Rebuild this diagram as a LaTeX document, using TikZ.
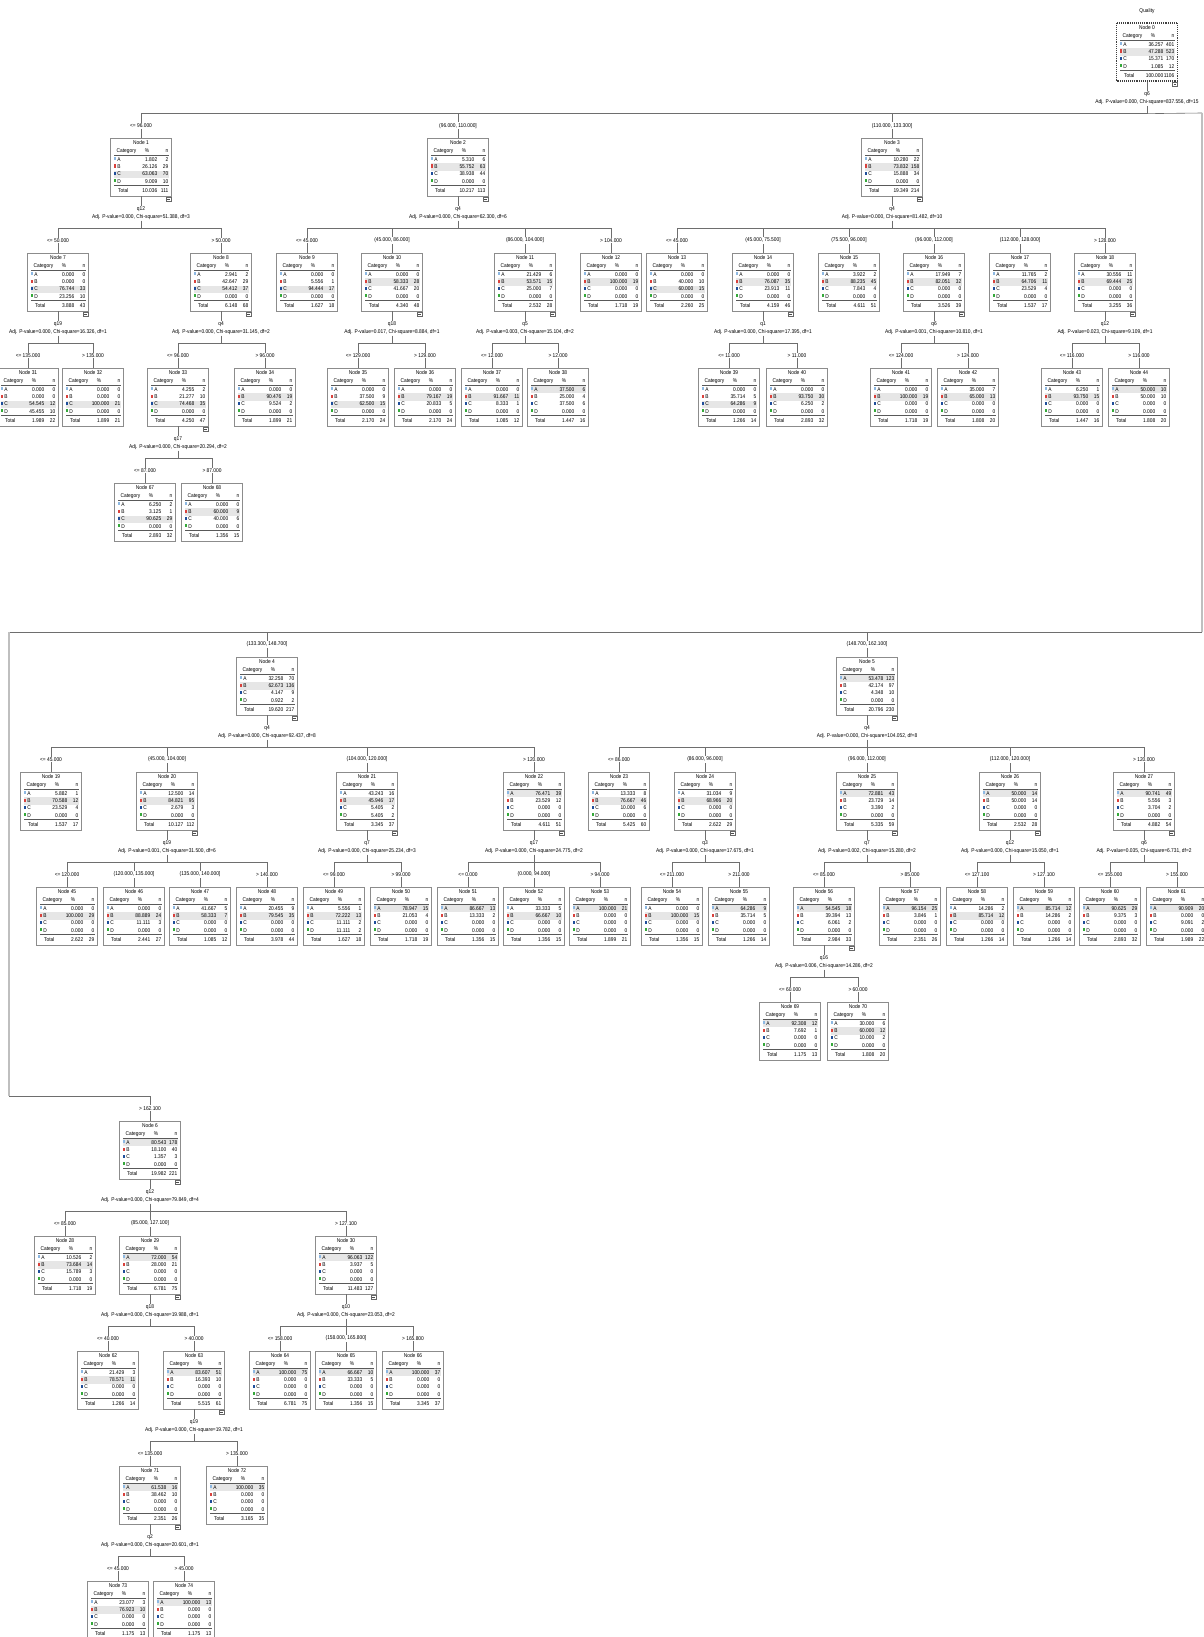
\documentclass[tikz,border=0pt]{standalone}
\usepackage{fontspec}
\newfontfamily\spss{Liberation Sans}[FakeStretch=0.88]
\usetikzlibrary{calc}
\definecolor{catA}{HTML}{8DB8E2}
\definecolor{catB}{HTML}{D9413C}
\definecolor{catC}{HTML}{1F4E9A}
\definecolor{catD}{HTML}{35A83A}
\definecolor{hlBack}{HTML}{E6E6E6}
\definecolor{linkGray}{HTML}{6E6E6E}
\definecolor{boxGray}{HTML}{8C8C8C}

\tikzset{
  txt/.style={inner sep=0pt, font=\fontsize{5.5}{6.6}\spss, text height=3.9pt, text depth=0.9pt},
  tbox/.style={draw=boxGray, line width=0.9pt, fill=white, minimum width=61pt, minimum height=58pt, inner sep=0pt},
  hrule/.style={draw=black!65, line width=0.4pt},
  link/.style={draw=linkGray, line width=0.6pt},
  wrap/.style={draw=black!25, line width=1.1pt},
  split/.style={font=\fontsize{5.5}{8}\spss, align=center, fill=white, inner sep=0.5pt},
  cond/.style={font=\fontsize{5.5}{6.6}\spss, fill=white, inner sep=1pt, pos=0.75},
  foldbox/.style={draw=black!60, line width=0.4pt, fill=white}
}

% one tree node: [box options]{number}{x}{y top}{pct/n rows}{highlighted row}{total pct/n}
\newcommand{\tnode}[7][]{%
  \begin{scope}[shift={(#3,#4)}]
    \node[tbox,#1] (n#2) at (0,29) {};
    \fill[hlBack] (-27,{10.75+7.3*#6}) rectangle (28,{18.05+7.3*#6});
    \node[txt] at (0,5) {Node #2};
    \node[txt] at (-14.5,13.2) {Category};
    \node[txt] at (6,13.2) {\%};
    \node[txt,anchor=east] at (27.5,13.2) {n};
    \draw[hrule] (-27,17) -- (28,17);
    \foreach \lt/\cl [count=\ri] in {A/catA,B/catB,C/catC,D/catD}{
      \fill[\cl] (-27.5,{11.9+7.3*\ri}) rectangle ++(2.8,3.2);
      \node[txt,anchor=west] at (-23.8,{14.4+7.3*\ri}) {\lt};
    }
    \foreach \pc/\cnt [count=\ri] in {#5}{
      \node[txt,anchor=east] at (16.5,{14.4+7.3*\ri}) {\pc};
      \node[txt,anchor=east] at (27.5,{14.4+7.3*\ri}) {\cnt};
    }
    \draw[hrule, line width=0.6pt] (-27,47.6) -- (28,47.6);
    \foreach \pc/\cnt in {#7}{
      \node[txt,anchor=west] at (-23,52.8) {Total};
      \node[txt,anchor=east] at (16.5,52.8) {\pc};
      \node[txt,anchor=east] at (27.5,52.8) {\cnt};
    }
  \end{scope}}

% split text under a parent, with its bar coordinate and fold mark
\newcommand{\branch}[2]{%
  \node[split] (s#1) at ($(n#1.south)+(0,17)$) {#2};
  \coordinate (b#1) at ($(n#1.south)+(0,32)$);
  \draw[link] (n#1) -- (s#1) -- (b#1);
  \draw[foldbox] ($(n#1.south east)+(-5.5,0.3)$) rectangle ++(4.6,4.6);
  \draw[black!70, line width=0.4pt] ($(n#1.south east)+(-4.6,2.6)$) -- ++(2.8,0);}

\begin{document}
\begin{tikzpicture}[x=1pt, y=-1pt]
\useasboundingbox (0,0) rectangle (1203,1637);
\fill[white] (0,0) rectangle (1203,1637);

\node[txt] (title) at (1147,11) {Quality};

% Root
\tnode[densely dotted, line width=1.3pt, draw=black!75]{0}{1147}{23}{36.257/401, 47.288/523, 15.371/170, 1.085/12}{2}{100.000/1106}

% Level 1 (upper part)
\tnode{1}{141}{138}{1.802/2, 26.126/29, 63.063/70, 9.009/10}{3}{10.036/111}
\tnode{2}{458}{138}{5.310/6, 55.752/63, 38.938/44, 0.000/0}{2}{10.217/113}
\tnode{3}{892}{138}{10.280/22, 73.832/158, 15.888/34, 0.000/0}{2}{19.349/214}

% Level 2
\tnode{7}{58}{253}{0.000/0, 0.000/0, 76.744/33, 23.256/10}{3}{3.888/43}
\tnode{8}{221}{253}{2.941/2, 42.647/29, 54.412/37, 0.000/0}{3}{6.148/68}
\tnode{9}{307}{253}{0.000/0, 5.556/1, 94.444/17, 0.000/0}{3}{1.627/18}
\tnode{10}{392}{253}{0.000/0, 58.333/28, 41.667/20, 0.000/0}{2}{4.340/48}
\tnode{11}{525}{253}{21.429/6, 53.571/15, 25.000/7, 0.000/0}{2}{2.532/28}
\tnode{12}{611}{253}{0.000/0, 100.000/19, 0.000/0, 0.000/0}{2}{1.718/19}
\tnode{13}{677}{253}{0.000/0, 40.000/10, 60.000/15, 0.000/0}{3}{2.260/25}
\tnode{14}{763}{253}{0.000/0, 76.087/35, 23.913/11, 0.000/0}{2}{4.159/46}
\tnode{15}{849}{253}{3.922/2, 88.235/45, 7.843/4, 0.000/0}{2}{4.611/51}
\tnode{16}{934}{253}{17.949/7, 82.051/32, 0.000/0, 0.000/0}{2}{3.526/39}
\tnode{17}{1020}{253}{11.765/2, 64.706/11, 23.529/4, 0.000/0}{2}{1.537/17}
\tnode{18}{1105}{253}{30.556/11, 69.444/25, 0.000/0, 0.000/0}{2}{3.255/36}

% Level 3
\tnode{31}{28}{368}{0.000/0, 0.000/0, 54.545/12, 45.455/10}{3}{1.989/22}
\tnode{32}{93}{368}{0.000/0, 0.000/0, 100.000/21, 0.000/0}{3}{1.899/21}
\tnode{33}{178}{368}{4.255/2, 21.277/10, 74.468/35, 0.000/0}{3}{4.250/47}
\tnode{34}{265}{368}{0.000/0, 90.476/19, 9.524/2, 0.000/0}{2}{1.899/21}
\tnode{35}{358}{368}{0.000/0, 37.500/9, 62.500/15, 0.000/0}{3}{2.170/24}
\tnode{36}{425}{368}{0.000/0, 79.167/19, 20.833/5, 0.000/0}{2}{2.170/24}
\tnode{37}{492}{368}{0.000/0, 91.667/11, 8.333/1, 0.000/0}{2}{1.085/12}
\tnode{38}{558}{368}{37.500/6, 25.000/4, 37.500/6, 0.000/0}{1}{1.447/16}
\tnode{39}{729}{368}{0.000/0, 35.714/5, 64.286/9, 0.000/0}{3}{1.266/14}
\tnode{40}{797}{368}{0.000/0, 93.750/30, 6.250/2, 0.000/0}{2}{2.893/32}
\tnode{41}{901}{368}{0.000/0, 100.000/19, 0.000/0, 0.000/0}{2}{1.718/19}
\tnode{42}{968}{368}{35.000/7, 65.000/13, 0.000/0, 0.000/0}{2}{1.808/20}
\tnode{43}{1072}{368}{6.250/1, 93.750/15, 0.000/0, 0.000/0}{2}{1.447/16}
\tnode{44}{1139}{368}{50.000/10, 50.000/10, 0.000/0, 0.000/0}{1}{1.808/20}

% Level 4
\tnode{67}{145}{483}{6.250/2, 3.125/1, 90.625/29, 0.000/0}{3}{2.893/32}
\tnode{68}{212}{483}{0.000/0, 60.000/9, 40.000/6, 0.000/0}{2}{1.356/15}

% Level 1 (middle part)
\tnode{4}{267}{657}{32.258/70, 62.673/136, 4.147/9, 0.922/2}{2}{19.620/217}
\tnode{5}{867}{657}{53.478/123, 42.174/97, 4.348/10, 0.000/0}{1}{20.796/230}

\tnode{19}{51}{772}{5.882/1, 70.588/12, 23.529/4, 0.000/0}{2}{1.537/17}
\tnode{20}{167}{772}{12.500/14, 84.821/95, 2.679/3, 0.000/0}{2}{10.127/112}
\tnode{21}{367}{772}{43.243/16, 45.946/17, 5.405/2, 5.405/2}{2}{3.345/37}
\tnode{22}{534}{772}{76.471/39, 23.529/12, 0.000/0, 0.000/0}{1}{4.611/51}
\tnode{23}{619}{772}{13.333/8, 76.667/46, 10.000/6, 0.000/0}{2}{5.425/60}
\tnode{24}{705}{772}{31.034/9, 68.966/20, 0.000/0, 0.000/0}{2}{2.622/29}
\tnode{25}{867}{772}{72.881/43, 23.729/14, 3.390/2, 0.000/0}{1}{5.335/59}
\tnode{26}{1010}{772}{50.000/14, 50.000/14, 0.000/0, 0.000/0}{1}{2.532/28}
\tnode{27}{1144}{772}{90.741/49, 5.556/3, 3.704/2, 0.000/0}{1}{4.882/54}

\tnode{45}{67}{887}{0.000/0, 100.000/29, 0.000/0, 0.000/0}{2}{2.622/29}
\tnode{46}{134}{887}{0.000/0, 88.889/24, 11.111/3, 0.000/0}{2}{2.441/27}
\tnode{47}{200}{887}{41.667/5, 58.333/7, 0.000/0, 0.000/0}{2}{1.085/12}
\tnode{48}{267}{887}{20.455/9, 79.545/35, 0.000/0, 0.000/0}{2}{3.978/44}
\tnode{49}{334}{887}{5.556/1, 72.222/13, 11.111/2, 11.111/2}{2}{1.627/18}
\tnode{50}{401}{887}{78.947/15, 21.053/4, 0.000/0, 0.000/0}{1}{1.718/19}
\tnode{51}{468}{887}{86.667/13, 13.333/2, 0.000/0, 0.000/0}{1}{1.356/15}
\tnode{52}{534}{887}{33.333/5, 66.667/10, 0.000/0, 0.000/0}{2}{1.356/15}
\tnode{53}{600}{887}{100.000/21, 0.000/0, 0.000/0, 0.000/0}{1}{1.899/21}
\tnode{54}{672}{887}{0.000/0, 100.000/15, 0.000/0, 0.000/0}{2}{1.356/15}
\tnode{55}{739}{887}{64.286/9, 35.714/5, 0.000/0, 0.000/0}{1}{1.266/14}
\tnode{56}{824}{887}{54.545/18, 39.394/13, 6.061/2, 0.000/0}{1}{2.984/33}
\tnode{57}{910}{887}{96.154/25, 3.846/1, 0.000/0, 0.000/0}{1}{2.351/26}
\tnode{58}{977}{887}{14.286/2, 85.714/12, 0.000/0, 0.000/0}{2}{1.266/14}
\tnode{59}{1044}{887}{85.714/12, 14.286/2, 0.000/0, 0.000/0}{1}{1.266/14}
\tnode{60}{1110}{887}{90.625/29, 9.375/3, 0.000/0, 0.000/0}{1}{2.893/32}
\tnode{61}{1177}{887}{90.909/20, 0.000/0, 9.091/2, 0.000/0}{1}{1.989/22}

\tnode{69}{790}{1002}{92.308/12, 7.692/1, 0.000/0, 0.000/0}{1}{1.175/13}
\tnode{70}{858}{1002}{30.000/6, 60.000/12, 10.000/2, 0.000/0}{2}{1.808/20}

% Level 1 (lower part)
\tnode{6}{150}{1121}{80.543/178, 18.100/40, 1.357/3, 0.000/0}{1}{19.982/221}

\tnode{28}{65}{1236}{10.526/2, 73.684/14, 15.789/3, 0.000/0}{2}{1.718/19}
\tnode{29}{150}{1236}{72.000/54, 28.000/21, 0.000/0, 0.000/0}{1}{6.781/75}
\tnode{30}{346}{1236}{96.063/122, 3.937/5, 0.000/0, 0.000/0}{1}{11.483/127}

\tnode{62}{108}{1351}{21.429/3, 78.571/11, 0.000/0, 0.000/0}{2}{1.266/14}
\tnode{63}{194}{1351}{83.607/51, 16.393/10, 0.000/0, 0.000/0}{1}{5.515/61}
\tnode{64}{280}{1351}{100.000/75, 0.000/0, 0.000/0, 0.000/0}{1}{6.781/75}
\tnode{65}{346}{1351}{66.667/10, 33.333/5, 0.000/0, 0.000/0}{1}{1.356/15}
\tnode{66}{413}{1351}{100.000/37, 0.000/0, 0.000/0, 0.000/0}{1}{3.345/37}

\tnode{71}{150}{1466}{61.538/16, 38.462/10, 0.000/0, 0.000/0}{1}{2.351/26}
\tnode{72}{237}{1466}{100.000/35, 0.000/0, 0.000/0, 0.000/0}{1}{3.165/35}

\tnode{73}{118}{1581}{23.077/3, 76.923/10, 0.000/0, 0.000/0}{2}{1.175/13}
\tnode{74}{184}{1581}{100.000/13, 0.000/0, 0.000/0, 0.000/0}{1}{1.175/13}

% Splits
\branch{0}{q6\\Adj. P-value=0.000, Chi-square=837.556, df=15}
\branch{1}{q12\\Adj. P-value=0.000, Chi-square=51.388, df=3}
\branch{2}{q4\\Adj. P-value=0.000, Chi-square=62.300, df=6}
\branch{3}{q4\\Adj. P-value=0.000, Chi-square=81.482, df=10}
\branch{7}{q19\\Adj. P-value=0.000, Chi-square=16.326, df=1}
\branch{8}{q4\\Adj. P-value=0.000, Chi-square=31.145, df=2}
\branch{10}{q18\\Adj. P-value=0.017, Chi-square=8.884, df=1}
\branch{11}{q5\\Adj. P-value=0.003, Chi-square=15.104, df=2}
\branch{14}{q1\\Adj. P-value=0.000, Chi-square=17.395, df=1}
\branch{16}{q6\\Adj. P-value=0.001, Chi-square=10.810, df=1}
\branch{18}{q12\\Adj. P-value=0.023, Chi-square=9.109, df=1}
\branch{33}{q17\\Adj. P-value=0.000, Chi-square=20.294, df=2}
\branch{4}{q4\\Adj. P-value=0.000, Chi-square=92.437, df=8}
\branch{5}{q4\\Adj. P-value=0.000, Chi-square=104.052, df=8}
\branch{20}{q19\\Adj. P-value=0.001, Chi-square=31.500, df=6}
\branch{21}{q7\\Adj. P-value=0.000, Chi-square=25.234, df=3}
\branch{22}{q17\\Adj. P-value=0.000, Chi-square=24.775, df=2}
\branch{24}{q3\\Adj. P-value=0.000, Chi-square=17.675, df=1}
\branch{25}{q7\\Adj. P-value=0.002, Chi-square=15.280, df=2}
\branch{26}{q12\\Adj. P-value=0.000, Chi-square=15.050, df=1}
\branch{27}{q6\\Adj. P-value=0.035, Chi-square=6.731, df=2}
\branch{56}{q16\\Adj. P-value=0.006, Chi-square=14.286, df=2}
\branch{6}{q12\\Adj. P-value=0.000, Chi-square=79.849, df=4}
\branch{29}{q18\\Adj. P-value=0.000, Chi-square=19.988, df=1}
\branch{30}{q10\\Adj. P-value=0.000, Chi-square=23.053, df=2}
\branch{63}{q19\\Adj. P-value=0.000, Chi-square=19.782, df=1}
\branch{71}{q2\\Adj. P-value=0.000, Chi-square=20.601, df=1}

% Root bar, wrapped round the page
\coordinate (w1) at (1202,113);
\coordinate (w2) at (1202,632);
\coordinate (w3) at (9,632);
\coordinate (w4) at (9,1096);
\draw[link] (b0) -- (w1);
\draw[wrap] (w1) -- (w2);
\draw[link] (w2) -- (w3);
\draw[wrap] (w3) -- (w4);
\draw[link] (b0) -| node[cond]{<= 96.000} (n1);
\draw[link] (b0) -| node[cond]{(96.000, 110.000]} (n2);
\draw[link] (b0) -| node[cond]{(110.000, 133.300]} (n3);
\draw[link] (w2) -| node[cond]{(133.300, 148.700]} (n4);
\draw[link] (w2) -| node[cond]{(148.700, 162.100]} (n5);
\draw[link] (w4) -| node[cond]{> 162.100} (n6);

% Upper part
\draw[link] (b1) -| node[cond]{<= 50.000} (n7);
\draw[link] (b1) -| node[cond]{> 50.000} (n8);
\draw[link] (b2) -| node[cond]{<= 45.000} (n9);
\draw[link] (b2) -| node[cond]{(45.000, 86.000]} (n10);
\draw[link] (b2) -| node[cond]{(86.000, 104.000]} (n11);
\draw[link] (b2) -| node[cond]{> 104.000} (n12);
\draw[link] (b3) -| node[cond]{<= 45.000} (n13);
\draw[link] (b3) -| node[cond]{(45.000, 75.500]} (n14);
\draw[link] (b3) -| node[cond]{(75.500, 96.000]} (n15);
\draw[link] (b3) -| node[cond]{(96.000, 112.000]} (n16);
\draw[link] (b3) -| node[cond]{(112.000, 128.000]} (n17);
\draw[link] (b3) -| node[cond]{> 128.000} (n18);
\draw[link] (b7) -| node[cond]{<= 135.000} (n31);
\draw[link] (b7) -| node[cond]{> 135.000} (n32);
\draw[link] (b8) -| node[cond]{<= 96.000} (n33);
\draw[link] (b8) -| node[cond]{> 96.000} (n34);
\draw[link] (b10) -| node[cond]{<= 129.000} (n35);
\draw[link] (b10) -| node[cond]{> 129.000} (n36);
\draw[link] (b11) -| node[cond]{<= 12.000} (n37);
\draw[link] (b11) -| node[cond]{> 12.000} (n38);
\draw[link] (b14) -| node[cond]{<= 11.000} (n39);
\draw[link] (b14) -| node[cond]{> 11.000} (n40);
\draw[link] (b16) -| node[cond]{<= 124.000} (n41);
\draw[link] (b16) -| node[cond]{> 124.000} (n42);
\draw[link] (b18) -| node[cond]{<= 116.000} (n43);
\draw[link] (b18) -| node[cond]{> 116.000} (n44);
\draw[link] (b33) -| node[cond]{<= 87.000} (n67);
\draw[link] (b33) -| node[cond]{> 87.000} (n68);

% Middle part
\draw[link] (b4) -| node[cond]{<= 45.000} (n19);
\draw[link] (b4) -| node[cond]{(45.000, 104.000]} (n20);
\draw[link] (b4) -| node[cond]{(104.000, 120.000]} (n21);
\draw[link] (b4) -| node[cond]{> 120.000} (n22);
\draw[link] (b5) -| node[cond]{<= 86.000} (n23);
\draw[link] (b5) -| node[cond]{(86.000, 96.000]} (n24);
\draw[link] (b5) -| node[cond]{(96.000, 112.000]} (n25);
\draw[link] (b5) -| node[cond]{(112.000, 120.000]} (n26);
\draw[link] (b5) -| node[cond]{> 120.000} (n27);
\draw[link] (b20) -| node[cond]{<= 120.000} (n45);
\draw[link] (b20) -| node[cond]{(120.000, 135.000]} (n46);
\draw[link] (b20) -| node[cond]{(135.000, 140.000]} (n47);
\draw[link] (b20) -| node[cond]{> 140.000} (n48);
\draw[link] (b21) -| node[cond]{<= 99.000} (n49);
\draw[link] (b21) -| node[cond]{> 99.000} (n50);
\draw[link] (b22) -| node[cond]{<= 0.000} (n51);
\draw[link] (b22) -| node[cond]{(0.000, 94.000]} (n52);
\draw[link] (b22) -| node[cond]{> 94.000} (n53);
\draw[link] (b24) -| node[cond]{<= 211.000} (n54);
\draw[link] (b24) -| node[cond]{> 211.000} (n55);
\draw[link] (b25) -| node[cond]{<= 85.000} (n56);
\draw[link] (b25) -| node[cond]{> 85.000} (n57);
\draw[link] (b26) -| node[cond]{<= 127.100} (n58);
\draw[link] (b26) -| node[cond]{> 127.100} (n59);
\draw[link] (b27) -| node[cond]{<= 155.000} (n60);
\draw[link] (b27) -| node[cond]{> 155.000} (n61);
\draw[link] (b56) -| node[cond]{<= 60.000} (n69);
\draw[link] (b56) -| node[cond]{> 60.000} (n70);

% Lower part
\draw[link] (b6) -| node[cond]{<= 85.000} (n28);
\draw[link] (b6) -| node[cond]{(85.000, 127.100]} (n29);
\draw[link] (b6) -| node[cond]{> 127.100} (n30);
\draw[link] (b29) -| node[cond]{<= 40.000} (n62);
\draw[link] (b29) -| node[cond]{> 40.000} (n63);
\draw[link] (b30) -| node[cond]{<= 158.000} (n64);
\draw[link] (b30) -| node[cond]{(158.000, 165.800]} (n65);
\draw[link] (b30) -| node[cond]{> 165.800} (n66);
\draw[link] (b63) -| node[cond]{<= 135.000} (n71);
\draw[link] (b63) -| node[cond]{> 135.000} (n72);
\draw[link] (b71) -| node[cond]{<= 45.000} (n73);
\draw[link] (b71) -| node[cond]{> 45.000} (n74);
\end{tikzpicture}
\end{document}
